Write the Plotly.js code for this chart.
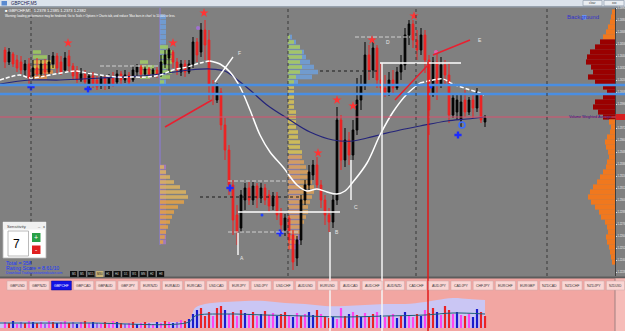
<!DOCTYPE html>
<html>
<head>
<meta charset="utf-8">
<script src="https://cdn.plot.ly/plotly-3.0.1.min.js"></script>
<style>
html,body{margin:0;padding:0;background:#808080;overflow:hidden;}
#chart{width:625px;height:331px;}
</style>
</head>
<body>
<div id="chart"></div>
<script>
// ================= DATA =================
const symbol = "GBPCHF,M5";

// candles (bar 0 .. 120)
const open = [
1.2450,1.2438,1.2446,1.2440,1.2438,1.2430,1.2436,1.2424,1.2432,1.2426,
1.2436,1.2428,1.2436,1.2444,1.2438,1.2430,1.2444,1.2434,1.2430,1.2420,
1.2426,1.2416,1.2424,1.2420,1.2414,1.2422,1.2414,1.2423,1.2418,1.2426,
1.2420,1.2425,1.2420,1.2428,1.2433,1.2426,1.2431,1.2426,1.2430,1.2425,
1.2436,1.2442,1.2448,1.2438,1.2428,1.2436,1.2428,1.2436,1.2458,1.2448,
1.2470,1.2460,1.2415,1.2400,1.2408,1.2375,1.2350,1.2315,1.2285,1.2272,
1.2300,1.2312,1.2300,1.2314,1.2302,1.2312,1.2305,1.2294,1.2304,1.2288,
1.2270,1.2282,1.2265,1.2242,1.2260,1.2300,1.2315,1.2325,1.2335,1.2315,
1.2300,1.2285,1.2278,1.2300,1.2380,1.2340,1.2360,1.2345,1.2370,1.2400,
1.2415,1.2445,1.2430,1.2452,1.2420,1.2412,1.2408,1.2420,1.2412,1.2428,
1.2435,1.2465,1.2476,1.2460,1.2450,1.2465,1.2440,1.2405,1.2438,1.2415,
1.2435,1.2425,1.2385,1.2388,1.2380,1.2400,1.2388,1.2400,1.2392,1.2405,
1.2378];
const high = [
1.2453,1.2452,1.2448,1.2445,1.2444,1.2440,1.2442,1.2440,1.2442,1.2440,
1.2441,1.2445,1.2448,1.2447,1.2444,1.2448,1.2450,1.2437,1.2434,1.2432,
1.2430,1.2428,1.2428,1.2424,1.2425,1.2424,1.2426,1.2428,1.2430,1.2429,
1.2430,1.2428,1.2434,1.2436,1.2435,1.2434,1.2433,1.2432,1.2433,1.2445,
1.2450,1.2452,1.2450,1.2442,1.2440,1.2440,1.2440,1.2463,1.2462,1.2477,
1.2480,1.2470,1.2420,1.2417,1.2412,1.2382,1.2355,1.2320,1.2295,1.2310,
1.2317,1.2318,1.2318,1.2317,1.2317,1.2316,1.2310,1.2308,1.2308,1.2292,
1.2286,1.2285,1.2270,1.2264,1.2305,1.2320,1.2335,1.2340,1.2343,1.2320,
1.2305,1.2292,1.2305,1.2393,1.2385,1.2372,1.2368,1.2380,1.2422,1.2425,
1.2458,1.2455,1.2460,1.2455,1.2437,1.2425,1.2428,1.2430,1.2433,1.2445,
1.2472,1.2480,1.2480,1.2470,1.2472,1.2470,1.2445,1.2443,1.2450,1.2443,
1.2440,1.2437,1.2407,1.2405,1.2407,1.2410,1.2403,1.2405,1.2412,1.2407,
1.2385];
const low = [
1.2432,1.2435,1.2433,1.2428,1.2426,1.2424,1.2416,1.2420,1.2422,1.2423,
1.2424,1.2426,1.2432,1.2427,1.2425,1.2427,1.2428,1.2420,1.2417,1.2418,
1.2414,1.2412,1.2412,1.2410,1.2411,1.2410,1.2411,1.2413,1.2415,1.2416,
1.2417,1.2415,1.2418,1.2424,1.2422,1.2423,1.2422,1.2423,1.2422,1.2423,
1.2432,1.2428,1.2432,1.2425,1.2424,1.2423,1.2426,1.2432,1.2438,1.2443,
1.2440,1.2400,1.2395,1.2397,1.2370,1.2340,1.2305,1.2265,1.2255,1.2268,
1.2290,1.2295,1.2295,1.2292,1.2297,1.2295,1.2288,1.2290,1.2280,1.2268,
1.2264,1.2250,1.2230,1.2234,1.2255,1.2295,1.2310,1.2320,1.2310,1.2292,
1.2275,1.2268,1.2272,1.2295,1.2330,1.2333,1.2335,1.2340,1.2365,1.2390,
1.2410,1.2420,1.2422,1.2412,1.2405,1.2403,1.2404,1.2407,1.2410,1.2420,
1.2430,1.2455,1.2452,1.2440,1.2445,1.2427,1.2365,1.2403,1.2400,1.2412,
1.2415,1.2377,1.2382,1.2380,1.2373,1.2383,1.2385,1.2382,1.2388,1.2377,
1.2373];
const close = [
1.2438,1.2448,1.2436,1.2432,1.2430,1.2436,1.2422,1.2432,1.2426,1.2436,
1.2428,1.2438,1.2444,1.2432,1.2428,1.2442,1.2434,1.2424,1.2420,1.2426,
1.2418,1.2424,1.2416,1.2413,1.2422,1.2414,1.2423,1.2416,1.2426,1.2420,
1.2425,1.2418,1.2430,1.2433,1.2426,1.2431,1.2426,1.2430,1.2425,1.2438,
1.2445,1.2450,1.2438,1.2430,1.2436,1.2428,1.2436,1.2458,1.2445,1.2470,
1.2455,1.2415,1.2405,1.2414,1.2375,1.2350,1.2315,1.2280,1.2268,1.2305,
1.2312,1.2300,1.2314,1.2302,1.2312,1.2300,1.2294,1.2304,1.2285,1.2275,
1.2282,1.2260,1.2238,1.2260,1.2300,1.2315,1.2328,1.2335,1.2315,1.2300,
1.2285,1.2278,1.2300,1.2380,1.2340,1.2360,1.2345,1.2370,1.2400,1.2415,
1.2445,1.2430,1.2452,1.2420,1.2412,1.2408,1.2420,1.2412,1.2428,1.2435,
1.2465,1.2476,1.2460,1.2450,1.2465,1.2440,1.2390,1.2438,1.2415,1.2435,
1.2425,1.2385,1.2402,1.2400,1.2398,1.2388,1.2400,1.2392,1.2408,1.2380,
1.2382];

// fast moving average (white)
const maFastBar = [-1.25,1.25,3.75,6.25,8.75,11.25,15.5,18,20.5,23.75,28,32,35.5,38.75,42,45.5,48.75,51.25,53.75,56.25,58.75,61.25,63.75,66.25,69.5,73,75.5,78,80.5,83,85,87,90.5,93.75,97,100.5,103.75,107,109.5,112,115.5,118.75,119.75];
const maFastPrice = [1.2420,1.2423,1.2425,1.2422,1.2423,1.2425,1.2428,1.2429,1.2427,1.2425,1.2423,1.2423,1.2423,1.2425,1.2430,1.2433,1.2437,1.2439,1.2436,1.2428,1.2413,1.2390,1.2365,1.2348,1.2333,1.2315,1.2309,1.2311,1.2308,1.2306,1.2309,1.2318,1.2337,1.2365,1.2388,1.2406,1.2417,1.2420,1.2421,1.2416,1.2411,1.2407,1.2405];
// slow moving average (navy)
const maSlowBar = [-1.25,6.25,13.75,23.75,33.75,38.75,46.25,51.25,55,57.5,61.25,65.5,71.25,76.25,82,87,90.5,94.5,98.75,103.75,110.5,115.5,119.75];
const maSlowPrice = [1.2416,1.2420,1.2420,1.2422,1.2424,1.2426,1.2430,1.2431,1.2429,1.2422,1.2410,1.2395,1.2380,1.2368,1.2360,1.2359,1.2362,1.2366,1.2370,1.2374,1.2379,1.2381,1.2383];

// lower panel histogram (per bar) + signal type
const histValue = [6,5,7,4,6,5,7,6,5,6,4,7,6,5,6,7,5,6,4,6,7,5,6,5,4,6,5,7,6,5,4,5,6,4,5,6,5,4,6,5,7,6,5,6,8,7,9,
14,18,20,12,16,
12,20,22,18,14,16,12,18,15,13,16,12,14,17,13,15,12,14,16,13,11,15,12,14,16,13,18,14,12,10,
11,9,20,12,14,16,13,11,15,12,14,16,13,11,12,14,10,12,16,13,11,14,12,18,15,20,16,13,22,18,
14,16,13,12,14,11,19,16,12];
const histType = ("mrbmvrmbrm"+"vmrbmmrvbm"+"rmbvmrmmbr"+"vmrbmrvmbm"+"rmbvmrb"+"bbrrr"+
  "mrrbmrmrbm"+"rmbrmmbrrm"+"bmrmbbrmrr"+"bmmrbmrbmr"+"rmbmrmbrbm"+"mrbmrrbmrr"+"mbmrmbbrr").split("");
const bandBar   = [-1.25,10,20,30,40,46,47.5,50,55,60,65,70,75,80,85,90,95,100,105,108,112,116,120];
const bandValue = [6,7,6,5,6,8,20,24,26,27,27,25,24,22,22,23,24,24,26,28,30,29,28];
const signalBar   = [-1.25,20,46,47.5,55,65,75,85,95,105,112,120];
const signalValue = [5,5,6,12,14,13,12,11,12,13,15,14];

// volume profile on the right (price level -> volume)
const vpLevel = [1.2488,1.2483,1.2478,1.2473,1.2468,1.2463,1.2458,1.2453,1.2448,1.2443,1.2438,1.2433,1.2428,1.2423,1.2418,1.2413,1.2408,1.2403,1.2398,1.2393,1.2388,1.2383,1.2378,1.2373,1.2368,1.2363,1.2358,1.2353,1.2348,1.2343,1.2338,1.2333,1.2328,1.2323,1.2318,1.2313,1.2308,1.2303,1.2298,1.2293,1.2288,1.2283,1.2278,1.2273,1.2268,1.2263,1.2258,1.2253,1.2248,1.2243,1.2238];
const vpVolume = [3,4,5,7,9,12,15,20,25,28,29,24,22,27,20,12,8,12,20,22,17,12,6,4,5,8,10,9,7,6,8,9,12,15,18,22,25,27,24,20,16,14,10,8,7,9,8,6,5,4,3];
const valueAreaHigh = 1.2460, vwap = 1.2383;

// market profiles (TPO blocks): start bar, levels, background and TPO counts
const mpBStart = 70.75;
const mpBLevel = [1.2463,1.2458,1.2453,1.2448,1.2443,1.2438,1.2433,1.2428,1.2423,1.2418,1.2413,1.2408,1.2403,1.2398,1.2393,1.2388,1.2383,1.2378,1.2373,1.2368,1.2363,1.2358,1.2353,1.2348,1.2343,1.2338,1.2333,1.2328,1.2323,1.2318,1.2313,1.2308,1.2303,1.2298,1.2293,1.2288,1.2283,1.2278,1.2273,1.2268,1.2263,1.2258,1.2253];
const mpBBack  = [1,2,3,4,4.5,5.5,6.5,7.5,6,2.5, 0,0,0,0,0,0,0,0,0,0,0,0,0,0, 3,3,3,3,3,3,3,3,3,3,3,3,3,3,3,3,3,3,2];
const mpBTpo   = [0.5,1.5,3,3.5,3.5,3,3.5,3,2,1.5, 1.5,1.5,1.5,1.5,1.5,2,2,2,2,2.5,2.5,3,3,3.5, 3.5,4,4.5,5,5.5,6,6.5,6.5,6,5.5,5,5,4.5,4,3.5,3,2.5,2,1.5];
const mpAStart = 38.75;
const mpALevel = [1.2333,1.2328,1.2323,1.2318,1.2313,1.2308,1.2303,1.2298,1.2293,1.2288,1.2283,1.2278,1.2273,1.2268,1.2263,1.2258];
const mpABack  = [1.5,1.5,1.5,1.5,1.5,1.5,1.5,1.5,1.5,1.5,1.5,1.5,1.5,1.5,1.5,1.5];
const mpATpo   = [1,1.5,2.5,3.5,5,6.5,7,6,4.5,3.5,3,2.5,2,1.5,1.2,0.8];
const mpCStart = 38.75;
const mpCLevel = [1.2483,1.2478,1.2473,1.2468,1.2463,1.2458,1.2453,1.2448,1.2443,1.2438,1.2433,1.2428,1.2423,1.2418];
const mpCBack  = [1.5,1.5,1.5,1.5,1.5,1.5,1.5,1.5,1.5,1.5,1.5,1.5,1.5,1.5];
const mpCTpo   = [0,0,0,0,0,0,2,3,3,3,2.5,3,2.5,1];
const mpDStart = 7, mpDLevel = [1.2448,1.2443,1.2438,1.2433,1.2428,1.2423], mpDTpo = [2,3.5,4.5,5.5,5,3.5];
const mpEStart = 33.75, mpELevel = [1.2438,1.2433,1.2428,1.2423], mpETpo = [2,3.5,4.5,2.5];

// signals
const starBar   = [15.75,42,49.75,78.25,83,87,91.75,102.25];
const starPrice = [1.2457,1.2457,1.2487,1.2347,1.2400,1.2394,1.2460,1.2484];
const crossBar   = [6.5,20.75,56.25,68.75,113.25];
const crossPrice = [1.2413,1.2411,1.2312,1.2267,1.2365];
const dotBar = [64.25,106.5], dotPrice = [1.2285,1.2413];
const ringBar = [114.25], ringPrice = [1.2375];
const pinkBar = [107.75,48.25], pinkPrice = [1.2448,1.2472];

// drawn objects
const bandLevels = [1.2415,1.2406];
const whiteLevels = [[1.2437,93.75,114],[1.2288,58.25,83.75]];
const grayLevels  = [[1.2319,55.75,70.75],[1.2268,55.75,73.75],[1.2463,87.5,101.25],[1.2434,23.75,38.75]];
const dotLevels   = [[1.2429,78.75,93.75],[1.2303,48.75,73.75]];
const sessionBars = [6.5,70.75,102.75,135.5];
const profileEdgeBar = 38.75;
const whiteVerticals = [[94.25,1.2437,null],[81.25,1.2268,null],[58.25,1.2267,1.2245],[86.5,1.2340,1.2300]];
const redVertical = [105.75,1.2438];
const redTrends = [[40,1.2373,51.75,1.2400],[97.5,1.2400,105.75,1.2435],[107,1.2445,116.25,1.2460]];
const whiteTrends = [[52.5,1.2418,57,1.2443]];
const waveLabels = [["A",58.25,1.2242],["B",82,1.2268],["C",86.75,1.2293],["D",94.75,1.2458],["E",117.75,1.2460],["F",57.75,1.2447]];

const tabNames = ["GBPUSD","GBPNZD","GBPCHF","GBPCAD","GBPAUD","GBPJPY","EURNZD","EURAUD","EURCAD","USDCAD","EURJPY","USDJPY","USDCHF","AUDUSD","EURUSD","AUDCAD","AUDCHF","AUDNZD","CADCHF","AUDJPY","CADJPY","CHFJPY","EURCHF","EURGBP","NZDCAD","NZDCHF","NZDJPY","NZDUSD"];
const activeTab = 2;
const timeframes = ["M1","M5","M15","M30","H1","H4","D1","W1","MN","H2","H8"];
const activeTf = 3;
const sensitivity = 7;
const totalCount = 358;
const ratingScore = "8.61/10";

// ================= DRAWING =================
const W = 625, H = 331;
const FONT = "Liberation Sans, Arial, sans-serif";
const xDom = [0, 615/625];
const yDom = [(H-276)/H, (H-8)/H];
const y2Dom = [(H-328)/H, (H-294)/H];
const yMin = 1.2224, yMax = 1.2492;
const px = x => x / W, py = y => 1 - y / H;
const p2paper = p => yDom[0] + (p - yMin) / (yMax - yMin) * (yDom[1] - yDom[0]);
const bars = open.map((_, i) => i);

const traces = [];

// market profiles
function profile(start, levels, back, tpo, backColor, tpoColor) {
  if (back) traces.push({type:'bar', orientation:'h', x:back, y:levels, base:start, width:0.00046,
    marker:{color:levels.map(backColor), line:{width:0}}, xaxis:'x', yaxis:'y', hoverinfo:'skip'});
  traces.push({type:'bar', orientation:'h', x:tpo, y:levels, base:start, width:0.00036,
    marker:{color:levels.map(tpoColor), line:{width:0}, opacity:0.9}, xaxis:'x', yaxis:'y', hoverinfo:'skip'});
}
profile(mpBStart, mpBLevel, mpBBack, mpBTpo,
  p => p > 1.2415 ? 'rgba(110,160,220,0.85)' : 'rgba(150,125,200,0.85)',
  p => p > 1.2415 ? '#a8c860' : (p > 1.2345 ? '#d4c058' : '#d8a05a'));
profile(mpAStart, mpALevel, mpABack, mpATpo,
  p => 'rgba(170,120,200,0.8)', p => p > 1.2300 ? '#d8b060' : '#e0a048');
profile(mpCStart, mpCLevel, mpCBack, mpCTpo,
  p => 'rgba(110,160,220,0.85)', p => '#9cc860');
profile(mpDStart, mpDLevel, null, mpDTpo, null, p => p > 1.2440 ? '#9cc860' : (p > 1.2430 ? '#d8c050' : '#e09048'));
profile(mpEStart, mpELevel, null, mpETpo, null, p => '#a0c868');

// right volume profile
traces.push({type:'bar', orientation:'h', x:vpVolume, y:vpLevel, base:0, width:0.00052,
  marker:{color:vpLevel.map(p => (p <= valueAreaHigh && p >= vwap) ? '#9a0000' : '#f0781e'), line:{width:0}},
  xaxis:'x3', yaxis:'y', hoverinfo:'skip'});

// moving averages
traces.push({type:'scatter', mode:'lines', x:maSlowBar, y:maSlowPrice, line:{color:'#24247a', width:1.2, shape:'spline'}, xaxis:'x', yaxis:'y'});
function part(a, b) { const X=[],Y=[]; maFastBar.forEach((x,k)=>{ if (x>=a && x<=b){X.push(x);Y.push(maFastPrice[k]);} }); return {X,Y}; }
[[ -5, 51.25, '4px,2px'], [51.25, 103.75, 'solid'], [103.75, 200, '4px,2px']].forEach(s => {
  const q = part(s[0], s[1]);
  traces.push({type:'scatter', mode:'lines', x:q.X, y:q.Y, line:{color:'#ffffff', width:1.5, shape:'spline', dash:s[2]}, xaxis:'x', yaxis:'y'});
});

// candles
traces.push({type:'candlestick', x:bars, open:open, high:high, low:low, close:close,
  increasing:{line:{color:'#000000', width:1}, fillcolor:'#000000'},
  decreasing:{line:{color:'#f02020', width:1}, fillcolor:'#f02020'},
  whiskerwidth:0, xaxis:'x', yaxis:'y', hoverinfo:'skip'});

// signal markers
traces.push({type:'scatter', mode:'markers', x:starBar, y:starPrice, marker:{symbol:'star', size:7, color:'#ff3434'}, xaxis:'x', yaxis:'y'});
traces.push({type:'scatter', mode:'markers', x:crossBar, y:crossPrice, marker:{symbol:'cross', size:6, color:'#1c2cff'}, xaxis:'x', yaxis:'y'});
traces.push({type:'scatter', mode:'markers', x:dotBar, y:dotPrice, marker:{symbol:'circle', size:3, color:'#2040ff'}, xaxis:'x', yaxis:'y'});
traces.push({type:'scatter', mode:'markers', x:ringBar, y:ringPrice, marker:{symbol:'circle-open', size:6, color:'#3a6cff', line:{width:1.5}}, xaxis:'x', yaxis:'y'});
traces.push({type:'scatter', mode:'markers', x:pinkBar, y:pinkPrice, marker:{symbol:'circle', size:4, color:['#e060b0','#a070d0']}, xaxis:'x', yaxis:'y'});

// lower panel: band on y2, histogram + signal line on overlaying y4 (drawn above the band)
traces.push({type:'scatter', mode:'lines', x:bandBar, y:bandValue, fill:'tozeroy', fillcolor:'#cac6f4', line:{width:0, shape:'spline'}, xaxis:'x', yaxis:'y2'});
const typeColor = {r:'#ea2226', m:'#ff44ee', b:'#1a1ccc', v:'#a060f0'};
traces.push({type:'bar', x:bars, y:histValue, width:0.55, marker:{color:histType.map(t => typeColor[t] || '#ff44ee'), line:{width:0}}, xaxis:'x', yaxis:'y4', hoverinfo:'skip'});
traces.push({type:'scatter', mode:'lines', x:signalBar, y:signalValue, line:{color:'#1f5f78', width:1, shape:'spline'}, xaxis:'x', yaxis:'y4'});

// ---------- shapes ----------
const shapes = [], ann = [];
function rectPx(x0,y0,x1,y1,fill,line,layer){ shapes.push({type:'rect', xref:'paper', yref:'paper', x0:px(x0), x1:px(x1), y0:py(y1), y1:py(y0), fillcolor:fill, line:line||{width:0}, layer:layer||'above'}); }
function textPx(x,y,t,size,color,extra){ ann.push(Object.assign({xref:'paper', yref:'paper', x:px(x), y:py(y), text:t, showarrow:false, xanchor:'left', yanchor:'middle', font:{size:size, color:color, family:FONT}}, extra||{})); }

// backgrounds
rectPx(0,0,625,7,'#dce3ec',null,'below');
rectPx(0,7,625,277,'#808080',null,'below');
rectPx(0,277,625,331,'#f2a6a2',null,'below');
rectPx(0,6,625,7.5,'#98a2ae',null,'below');
rectPx(0,276.5,625,278.5,'#5c5c5c',null,'below');
rectPx(615,278.5,625,331,'#f6bcb8',null,'below');
shapes.push({type:'line', xref:'paper', yref:'paper', x0:px(615), x1:px(615), y0:0, y1:py(278), line:{color:'#a08080', width:1}, layer:'below'});

// horizontal levels
bandLevels.forEach(p => shapes.push({type:'line', xref:'paper', yref:'y', x0:0, x1:1, y0:p, y1:p, line:{color:'#4a8ee2', width:2.5}}));
shapes.push({type:'line', xref:'paper', yref:'y', x0:0, x1:1, y0:vwap, y1:vwap, line:{color:'#d8506e', width:1}});
whiteLevels.forEach(s => shapes.push({type:'line', xref:'x', yref:'y', x0:s[1], x1:s[2], y0:s[0], y1:s[0], line:{color:'#ffffff', width:1.5}}));
grayLevels.forEach(s => shapes.push({type:'line', xref:'x', yref:'y', x0:s[1], x1:s[2], y0:s[0], y1:s[0], line:{color:'#cfcfcf', width:1, dash:'4px,2px'}}));
dotLevels.forEach(s => shapes.push({type:'line', xref:'x', yref:'y', x0:s[1], x1:s[2], y0:s[0], y1:s[0], line:{color:'#1a1a1a', width:1, dash:'dot'}}));

// verticals
sessionBars.forEach(b => shapes.push({type:'line', xref:'x', yref:'paper', x0:b, x1:b, y0:yDom[0], y1:yDom[1], line:{color:'#383838', width:1, dash:'dot'}}));
shapes.push({type:'line', xref:'x', yref:'paper', x0:profileEdgeBar, x1:profileEdgeBar, y0:p2paper(1.2255), y1:yDom[1], line:{color:'#8a7ad0', width:1.2}, layer:'below'});
whiteVerticals.forEach(v => shapes.push({type:'line', xref:'x', yref:'paper', x0:v[0], x1:v[0], y0:v[2]===null ? 0 : p2paper(v[2]), y1:p2paper(v[1]), line:{color:'#f4f4f4', width:1.5}}));
shapes.push({type:'line', xref:'x', yref:'paper', x0:redVertical[0], x1:redVertical[0], y0:0, y1:p2paper(redVertical[1]), line:{color:'#e01818', width:1.5}});
redTrends.forEach(s => shapes.push({type:'line', xref:'x', yref:'y', x0:s[0], y0:s[1], x1:s[2], y1:s[3], line:{color:'#e82030', width:1.5}}));
whiteTrends.forEach(s => shapes.push({type:'line', xref:'x', yref:'y', x0:s[0], y0:s[1], x1:s[2], y1:s[3], line:{color:'#ffffff', width:1.3}}));
waveLabels.forEach(l => ann.push({xref:'x', yref:'y', x:l[1], y:l[2], text:l[0], showarrow:false, xanchor:'left', yanchor:'middle', font:{size:5, color:'#e8e8e8', family:FONT}}));

// title bar and window buttons
rectPx(1.5,1,7,5.5,'#5a8ad0');
textPx(9,3.3,symbol,4.5,'#1a2050');
rectPx(583,0.5,602,5.8,'#e9edf2',{color:'#8894a4', width:0.6});
rectPx(604,0.5,624,5.8,'#e9edf2',{color:'#8894a4', width:0.6});
textPx(587,3.2,'clear',3,'#333');
textPx(610,3.2,'xxx',3,'#333');

// chart header texts
textPx(3,10.5,'\u25A0 ' + symbol + '  ' + open[120].toFixed(4) + ' ' + high[120].toFixed(4) + ' ' + low[120].toFixed(4) + ' ' + close[120].toFixed(4),4,'#ffffff');
textPx(3,15.5,"Warning: loading performance may be hindered. Go to Tools > Options > Charts tab, and reduce 'Max bars in chart' to 10,000 or less.",2.9,'#ffffff');
textPx(565,17,'Background',6,'#3434c8');
rectPx(582,15,586.5,19.5,'#6a94ec');
textPx(567,116.5,'Volume Weighted Average',3.6,'#1c1c8a');
rectPx(615.5,114,625,120,'#d82020');

// sensitivity widget
rectPx(3,222,46,258,'#ffffff',{color:'#b8b8b8', width:0.8});
rectPx(3,222,46,229.5,'#f0f0f0');
textPx(5,226,'Sensitivity',4.2,'#404040');
textPx(35,225,'_',4,'#404040');
textPx(41,226,'x',4,'#404040');
rectPx(8,231,28.5,256,'#ffffff',{color:'#a8a8a8', width:0.8});
textPx(11,244,String(sensitivity),12,'#000000');
rectPx(32,233,40.5,242,'#2aa048');
textPx(36.2,237.5,'+',7,'#ffffff',{xanchor:'center'});
rectPx(32,245.5,40.5,254,'#e02020');
textPx(36.2,249.5,'-',7,'#ffffff',{xanchor:'center'});

textPx(4,263,'Total = ' + totalCount,5.2,'#1c38ff');
textPx(4,268,'Rating Score = ' + ratingScore,5.2,'#1c38ff');
textPx(4,273,'Download Tradeassistantindicator.com',3.3,'#2a40ff');

// timeframe buttons
timeframes.forEach((t,k) => {
  const x0 = 70 + k * 8.7;
  rectPx(x0,271,x0+7.2,277,k === activeTf ? '#c8b478' : '#101010');
  textPx(x0+3.6,274,t,2.8,k === activeTf ? '#202020' : '#d8d8d8',{xanchor:'center'});
});

// symbol tabs
tabNames.forEach((t,k) => {
  const x0 = 7 + k * 22.2;
  const on = k === activeTab;
  const x1 = Math.min(x0 + 20, 624.5);
  rectPx(x0,281,x1,290,on ? '#1212e6' : '#fad6d4',{color: on ? '#0a0a90' : '#c8a8a8', width:0.5});
  textPx((x0+x1)/2,285.6,t,x1 - x0 < 19 ? 3 : 3.5,on ? '#ffffff' : '#383838',{xanchor:'center'});
});

const layout = {
  width:W, height:H, margin:{l:0,r:0,t:0,b:0},
  paper_bgcolor:'#808080', plot_bgcolor:'rgba(0,0,0,0)',
  showlegend:false, barmode:'overlay', boxgap:0.4,
  font:{family:FONT},
  xaxis:{domain:xDom, range:[-1.25,152.5], visible:false, anchor:'y', rangeslider:{visible:false}, fixedrange:true},
  xaxis3:{overlaying:'x', range:[615,0], visible:false, anchor:'y', fixedrange:true},
  yaxis:{domain:yDom, range:[yMin,yMax], side:'right', anchor:'x', dtick:0.0012, tick0:1.2228, tickformat:'.4f',
         tickfont:{size:2.6, color:'#f0f0f0', family:FONT}, ticks:'outside', ticklen:1, tickcolor:'#e0e0e0',
         showgrid:false, zeroline:false, showline:true, linecolor:'#404040', linewidth:1, fixedrange:true},
  yaxis2:{domain:y2Dom, range:[0,34], visible:false, anchor:'x', fixedrange:true},
  yaxis4:{overlaying:'y2', range:[0,34], visible:false, anchor:'x', fixedrange:true},
  shapes:shapes, annotations:ann
};

Plotly.newPlot('chart', traces, layout, {staticPlot:true, displayModeBar:false});
</script>
</body>
</html>
